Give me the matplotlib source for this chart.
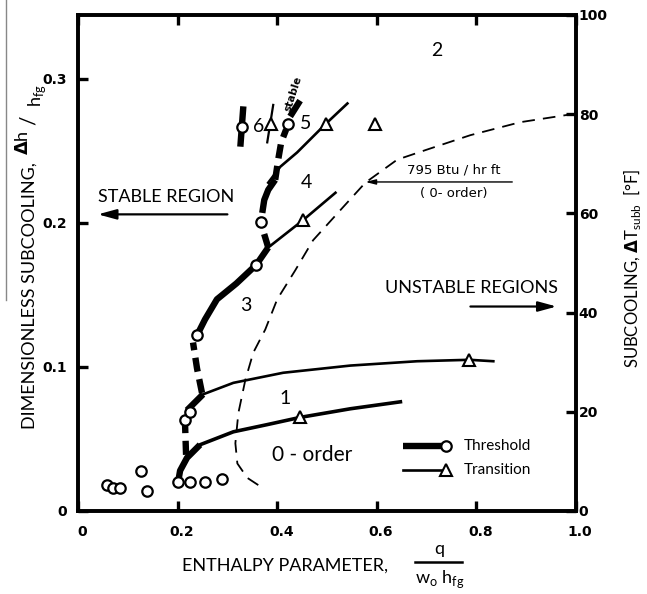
import matplotlib
matplotlib.use("Agg")
import matplotlib.pyplot as plt
from matplotlib.lines import Line2D
from matplotlib.transforms import ScaledTranslation

# ---------------- data (x = q/(w0 hfg), y = dh/hfg) ----------------
# threshold circles scattered near the bottom (0-order region)
zero_x = [0.058, 0.070, 0.084, 0.127, 0.139, 0.201, 0.225, 0.255, 0.289]
zero_y = [0.018, 0.016, 0.016, 0.028, 0.014, 0.020, 0.020, 0.020, 0.022]

# threshold circles on the threshold boundary
thr_x = [0.215, 0.225, 0.239, 0.358, 0.368, 0.422, 0.330]
thr_y = [0.063, 0.069, 0.122, 0.171, 0.201, 0.269, 0.267]

# transition triangles
tri_x = [0.446, 0.786, 0.452, 0.388, 0.498, 0.597]
tri_y = [0.065, 0.105, 0.202, 0.269, 0.269, 0.269]

# boundary 0-order / 1
b1_x = [0.201, 0.205, 0.219, 0.245, 0.312, 0.380, 0.446, 0.547, 0.651]
b1_y = [0.020, 0.028, 0.037, 0.046, 0.055, 0.060, 0.065, 0.071, 0.076]

# boundary 1 / 2
b2_x = [0.219, 0.251, 0.312, 0.412, 0.547, 0.681, 0.786, 0.834]
b2_y = [0.070, 0.081, 0.089, 0.096, 0.101, 0.104, 0.105, 0.104]

# boundary 3 / 4 (transition)
b4_x = [0.382, 0.452, 0.517]
b4_y = [0.183, 0.202, 0.221]

# boundary 4 / 5 (transition)
b5_x = [0.382, 0.406, 0.440, 0.498, 0.541]
b5_y = [0.228, 0.239, 0.249, 0.269, 0.283]

# short transition segment near region 6
b6_x = [0.380, 0.392]
b6_y = [0.256, 0.282]

# threshold boundary pieces (solid)
ts1_x = [0.201, 0.205, 0.219, 0.245]
ts1_y = [0.020, 0.028, 0.037, 0.046]
ts2_x = [0.219, 0.251]
ts2_y = [0.070, 0.081]
ts3_x = [0.239, 0.255, 0.279, 0.318, 0.358, 0.382]
ts3_y = [0.122, 0.133, 0.147, 0.158, 0.171, 0.183]
ts4_x = [0.370, 0.374, 0.382, 0.396]
ts4_y = [0.207, 0.216, 0.223, 0.230]
ts5_x = [0.426, 0.446]
ts5_y = [0.274, 0.285]
ts6_x = [0.326, 0.332]
ts6_y = [0.253, 0.281]

# threshold boundary pieces (dashed)
td1_x = [0.217, 0.215]
td1_y = [0.039, 0.060]
td2_x = [0.249, 0.239, 0.231]
td2_y = [0.082, 0.099, 0.117]
td3_x = [0.382, 0.368]
td3_y = [0.183, 0.199]
td4_x = [0.396, 0.402, 0.408, 0.418]
td4_y = [0.230, 0.244, 0.256, 0.265]

# 795 Btu/hr ft (0-order) curve
dsh_x = [0.362, 0.340, 0.320, 0.316, 0.322, 0.336, 0.352, 0.376, 0.400, 0.436,
         0.472, 0.527, 0.577, 0.641, 0.701, 0.788, 0.888, 1.000]
dsh_y = [0.018, 0.023, 0.033, 0.047, 0.068, 0.091, 0.110, 0.126, 0.147, 0.167,
         0.188, 0.209, 0.228, 0.244, 0.251, 0.261, 0.270, 0.276]

x_ticks = [0, 0.2, 0.4, 0.6, 0.8, 1.0]
x_labels = ["0", "0.2", "0.4", "0.6", "0.8", "1.0"]
yl_ticks = [0, 0.1, 0.2, 0.3]
yl_labels = ["0", "0.1", "0.2", "0.3"]
yr_ticks = [0, 20, 40, 60, 80, 100]
yr_labels = ["0", "20", "40", "60", "80", "100"]

# ---------------- figure ----------------
W, H = 647, 594
fig = plt.figure(figsize=(W / 100, H / 100), dpi=100)
L, R, T, B = 78, 576, 15, 511
ax = fig.add_axes([L / W, 1 - B / H, (R - L) / W, (B - T) / H])
YTOP = (B - T) / 1440.0
ax.set_xlim(0, 1.0)
ax.set_ylim(0, YTOP)

TXT = ["Lato", "DejaVu Sans"]
TICKF = dict(family="DejaVu Sans", weight="bold", size=10)

for s in ax.spines.values():
    s.set_linewidth(2.6)

ax.set_xticks(x_ticks)
ax.set_xticklabels(x_labels, **TICKF)
ax.set_yticks(yl_ticks)
ax.set_yticklabels(yl_labels, **TICKF)
ax.tick_params(axis="both", direction="in", length=7, width=2.4, top=True,
               pad=8)
ax.tick_params(axis="x", pad=10)
shift = ScaledTranslation(4 / 100, 0, fig.dpi_scale_trans)
for lab in ax.get_xticklabels():
    lab.set_transform(lab.get_transform() + shift)

ax2 = ax.twinx()
ax2.set_ylim(0, (B - T) / 4.97)
ax2.set_yticks(yr_ticks)
ax2.set_yticklabels(yr_labels, **TICKF)
ax2.tick_params(axis="y", direction="in", length=7, width=2.4, pad=2)
for s in ax2.spines.values():
    s.set_linewidth(2.6)

THK = 4.6
TLW = 1.9
MK = dict(marker="o", ms=7.5, mfc="white", mec="black", mew=1.6, ls="none", zorder=6)
TK = dict(marker="^", ms=8, mfc="white", mec="black", mew=1.5, ls="none", zorder=6)

# dashed 795 Btu curve
ax.plot(dsh_x, dsh_y, color="black", lw=1.3, dashes=[7, 4.5], zorder=2)

# transition boundaries
ax.plot(b1_x, b1_y, color="black", lw=2.6, solid_capstyle="butt", zorder=3)
ax.plot(b2_x, b2_y, color="black", lw=TLW, zorder=3)
ax.plot(b4_x, b4_y, color="black", lw=TLW, zorder=3)
ax.plot(b5_x, b5_y, color="black", lw=TLW, zorder=3)
ax.plot(b6_x, b6_y, color="black", lw=1.6, zorder=3)

# threshold boundary
for xs, ys in [(ts1_x, ts1_y), (ts2_x, ts2_y), (ts3_x, ts3_y),
               (ts4_x, ts4_y), (ts5_x, ts5_y), (ts6_x, ts6_y)]:
    ax.plot(xs, ys, color="black", lw=THK, solid_capstyle="butt", zorder=4)
for xs, ys in [(td1_x, td1_y), (td2_x, td2_y), (td3_x, td3_y), (td4_x, td4_y)]:
    ax.plot(xs, ys, color="black", lw=THK, dashes=[2.2, 1.2],
            dash_capstyle="butt", zorder=4)

ax.plot(zero_x, zero_y, **MK)
ax.plot(thr_x, thr_y, **MK)
ax.plot(tri_x, tri_y, **TK)

# region labels
RL = dict(family=TXT, size=14, ha="center", va="center")
ax.text(0.362, 0.267, "6", **RL)
ax.text(0.458, 0.269, "5", **RL)
ax.text(0.458, 0.228, "4", **RL)
ax.text(0.336, 0.143, "3", **RL)
ax.text(0.720, 0.320, "2", **RL)
ax.text(0.416, 0.078, "1", **RL)
ax.text(0.470, 0.039, "0 - order", family=TXT, size=15, ha="center", va="center")
ax.text(0.433, 0.290, "stable", family="DejaVu Sans", weight="bold", size=7.5,
        rotation=72, ha="center", va="center")

# stable / unstable arrows
ax.text(0.040, 0.218, "STABLE REGION", family=TXT, size=13, ha="left", va="center")
ax.annotate("", xy=(0.040, 0.206), xytext=(0.300, 0.206),
            arrowprops=dict(arrowstyle="-|>,head_length=1.1,head_width=0.3",
                            color="black", lw=1.6, shrinkA=0, shrinkB=0))
ax.text(0.617, 0.155, "UNSTABLE REGIONS", family=TXT, size=13, ha="left", va="center")
ax.annotate("", xy=(0.961, 0.142), xytext=(0.788, 0.142),
            arrowprops=dict(arrowstyle="-|>,head_length=1.1,head_width=0.3",
                            color="black", lw=1.6, shrinkA=0, shrinkB=0))

# 795 Btu annotation
ax.annotate("", xy=(0.577, 0.2285), xytext=(0.872, 0.2285),
            arrowprops=dict(arrowstyle="-|>,head_length=0.6,head_width=0.15",
                            color="black", lw=1.0, shrinkA=0, shrinkB=0))
ax.text(0.754, 0.2320, "795 Btu / hr ft", family="DejaVu Sans", size=9.5,
        ha="center", va="bottom")
ax.text(0.754, 0.2250, "( 0- order)", family="DejaVu Sans", size=9.5,
        ha="center", va="top")

# legend
leg_x0, leg_x1 = 0.653, 0.738
ax.plot([leg_x0, leg_x1], [0.045, 0.045], color="black", lw=THK,
        solid_capstyle="butt", zorder=5)
ax.plot([leg_x1], [0.045], **MK)
ax.plot([leg_x0, leg_x1], [0.0285, 0.0285], color="black", lw=TLW, zorder=5)
ax.plot([leg_x1], [0.0285], **TK)
ax.text(0.774, 0.045, "Threshold", family=TXT, size=11, ha="left", va="center")
ax.text(0.774, 0.0285, "Transition", family=TXT, size=11, ha="left", va="center")

# axis titles
fig.text(182 / W, 1 - 566 / H, "ENTHALPY PARAMETER,", family=TXT, size=13,
         ha="left", va="center")
fig.text(439 / W, 1 - 549 / H, "q", family=TXT, size=13, ha="center", va="center")
fig.add_artist(Line2D([415 / W, 462 / W], [1 - 562 / H, 1 - 562 / H],
                      color="black", lw=1.8))
fig.text(440 / W, 1 - 579 / H, r"w$_{\mathregular{o}}$ h$_{\mathregular{fg}}$",
         family=TXT, size=13, ha="center", va="center")

fig.text(30 / W, 1 - 296 / H, "DIMENSIONLESS SUBCOOLING,", family=TXT, size=13,
         rotation=90, ha="center", va="center")
fig.text(22 / W, 1 - 143 / H, r"$\mathbf{\Delta}$h", family=TXT, size=13,
         rotation=90, ha="center", va="center")
fig.text(29 / W, 1 - 120 / H, "/", family=TXT, size=15, rotation=90,
         ha="center", va="center")
fig.text(37 / W, 1 - 96 / H, r"h$_{\mathregular{fg}}$", family=TXT, size=13,
         rotation=90, ha="center", va="center")
fig.add_artist(Line2D([6 / W, 6 / W], [1.0, 1 - 300 / H], color="#888888", lw=1.0))

fig.text(632 / W, 1 - 268 / H,
         r"SUBCOOLING, $\mathbf{\Delta}$T$_{\mathregular{subb}}$  [°F]",
         family=TXT, size=12, rotation=90, ha="center", va="center")

fig.savefig("out.png", dpi=100)
